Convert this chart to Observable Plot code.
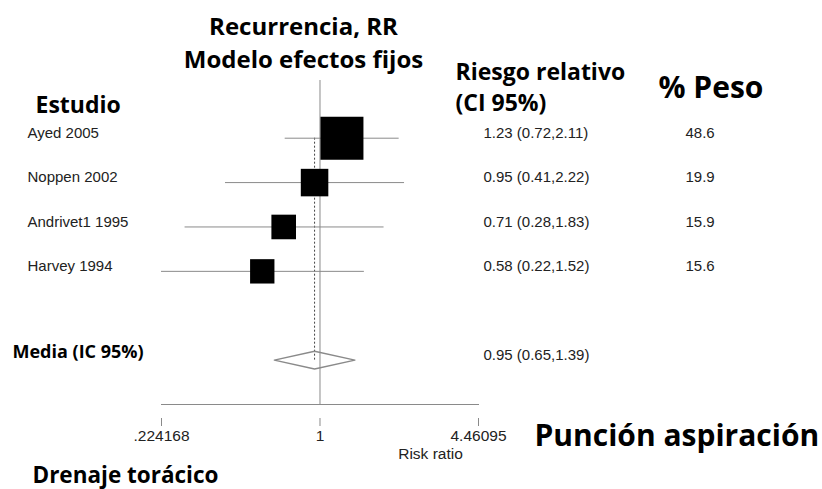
<!DOCTYPE html>
<html>
<head>
<meta charset="utf-8">
<script src="https://cdn.jsdelivr.net/npm/d3@7"></script>
<script src="https://cdn.jsdelivr.net/npm/@observablehq/plot@0.6"></script>
<style>
  html, body { margin: 0; padding: 0; background: #fff; }
</style>
</head>
<body>
<div id="chart"></div>
<script>
// ---- data ----
const studies = ["Ayed 2005", "Noppen 2002", "Andrivet1 1995", "Harvey 1994"];
const rr      = [1.23, 0.95, 0.71, 0.58];
const lo      = [0.72, 0.41, 0.28, 0.22];
const hi      = [2.11, 2.22, 1.83, 1.52];
const weight  = [48.6, 19.9, 15.9, 15.6];
const pooledLabel = "Media (IC 95%)";
const pooledRR = 0.95, pooledLo = 0.65, pooledHi = 1.39;
const tickValues = [0.224168, 1, 4.46095];
const tickLabels = [".224168", "1", "4.46095"];

// ---- derived tables ----
const rows = studies.map((s, i) => ({
  name: s, row: i + 1, rr: rr[i], lo: lo[i], hi: hi[i], weight: weight[i],
  txt: `${rr[i].toFixed(2)} (${lo[i].toFixed(2)},${hi[i].toFixed(2)})`,
  w: weight[i].toFixed(1)
}));
const pooledRow = studies.length + 2;
const pooled = [{name: pooledLabel, row: pooledRow, rr: pooledRR, lo: pooledLo, hi: pooledHi,
  txt: `${pooledRR.toFixed(2)} (${pooledLo.toFixed(2)},${pooledHi.toFixed(2)})`}];
const dh = 0.2;
const diamond = [
  {x: pooledLo, y: pooledRow}, {x: pooledRR, y: pooledRow - dh},
  {x: pooledHi, y: pooledRow}, {x: pooledRR, y: pooledRow + dh},
  {x: pooledLo, y: pooledRow}
];

// ---- layout ----
const W = 822, H = 489, ML = 161, MR = 344, MT = 80, MB = 85;
const GRAY = "#8a8a8a";
const BOLD = "'Open Sans', Lato, sans-serif";
const SANS = "'Liberation Sans', Arial, sans-serif";

function label(text, x, baseline, size, extra = {}) {
  return Plot.text([text], {
    text: d => d, frameAnchor: "top-left", dx: x - ML, dy: baseline - MT,
    lineAnchor: "bottom", textAnchor: "start",
    fontFamily: BOLD, fontWeight: "bold", fontSize: size, fill: "black", ...extra
  });
}

const chart = Plot.plot({
  width: W, height: H,
  marginLeft: ML, marginRight: MR, marginTop: MT, marginBottom: MB,
  style: {fontFamily: SANS, fontSize: "15px", background: "white", color: "black"},
  x: {type: "log", domain: [tickValues[0], tickValues[2]], clamp: true},
  y: {domain: [-0.3, pooledRow + 1], reverse: true, axis: null},
  r: {type: "sqrt", domain: [0, d3.max(weight)], range: [0, 43 / Math.sqrt(Math.PI)]},
  marks: [
    Plot.frame({anchor: "bottom", stroke: GRAY}),
    Plot.ruleX([1], {stroke: GRAY}),
    Plot.ruleX([pooledRR], {y1: 1, y2: pooledRow, stroke: "#444", strokeDasharray: "2,2"}),
    Plot.ruleY(rows, {y: "row", x1: "lo", x2: "hi", stroke: GRAY}),
    Plot.dot(rows, {x: "rr", y: "row", r: "weight", symbol: "square", fill: "black", stroke: null}),
    Plot.line(diamond, {x: "x", y: "y", stroke: GRAY, strokeWidth: 1.4}),
    Plot.axisX(tickValues, {
      ticks: tickValues, tickSize: 8, dy: 14, tickPadding: 3, stroke: GRAY,
      tickFormat: (d) => tickLabels[tickValues.indexOf(d)],
      fontSize: 15.5, fill: "#222", label: null
    }),
    // study rows
    Plot.text(rows, {y: "row", text: "name", frameAnchor: "left", dx: 27 - ML, dy: -5,
      textAnchor: "start", fontSize: 15, fill: "#222"}),
    Plot.text(rows, {y: "row", text: "txt", frameAnchor: "right", dx: 483 - (W - MR), dy: -5,
      textAnchor: "start", fontSize: 15, fill: "#222"}),
    Plot.text(rows, {y: "row", text: "w", frameAnchor: "right", dx: 685 - (W - MR), dy: -5,
      textAnchor: "start", fontSize: 15, fill: "#222"}),
    Plot.text(pooled, {y: "row", text: "txt", frameAnchor: "right", dx: 483 - (W - MR), dy: -5,
      textAnchor: "start", fontSize: 15, fill: "#222"}),
    Plot.text(pooled, {y: "row", text: "name", frameAnchor: "left", dx: 12 - ML, dy: -8,
      textAnchor: "start", fontSize: 18, fontFamily: BOLD, fontWeight: "bold", fill: "black"}),
    // headers
    Plot.text(["Recurrencia, RR"], {text: d => d, frameAnchor: "top-left", dx: 303 - ML, dy: 34 - MT,
      lineAnchor: "bottom", textAnchor: "middle", fontFamily: BOLD, fontWeight: "bold", fontSize: 24}),
    Plot.text(["Modelo efectos fijos"], {text: d => d, frameAnchor: "top-left", dx: 303 - ML, dy: 67 - MT,
      lineAnchor: "bottom", textAnchor: "middle", fontFamily: BOLD, fontWeight: "bold", fontSize: 24}),
    label("Estudio", 35, 112, 23),
    label("Riesgo relativo", 455, 79, 23),
    label("(CI 95%)", 455, 110, 23),
    label("% Peso", 658, 97, 30),
    label("Punción aspiración", 534, 445, 30),
    label("Drenaje torácico", 32, 482, 22.5),
    Plot.text(["Risk ratio"], {text: d => d, frameAnchor: "top-left", dx: 430 - ML, dy: 458 - MT,
      lineAnchor: "bottom", textAnchor: "middle", fontSize: 15.5, fill: "#222"})
  ]
});
document.getElementById("chart").appendChild(chart);
</script>
</body>
</html>
